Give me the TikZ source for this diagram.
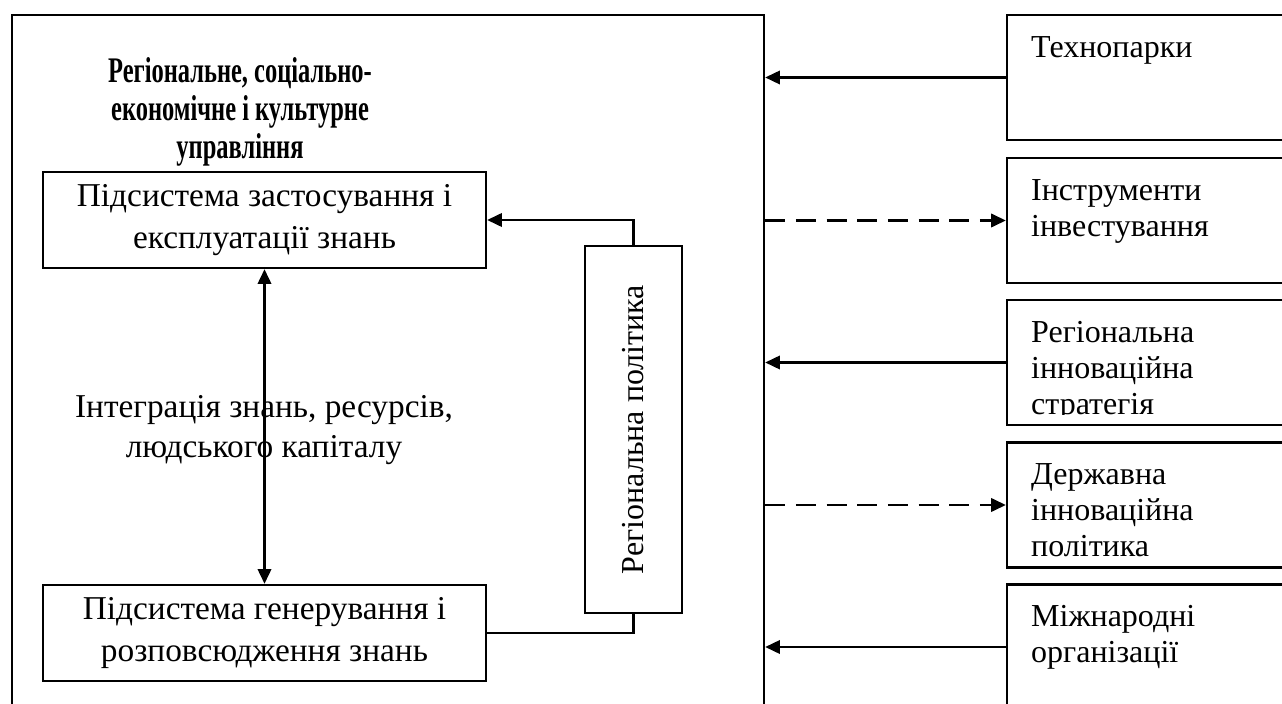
\documentclass[tikz,border=0pt]{standalone}
\usepackage{fontspec}
\setmainfont{Liberation Serif}
\usetikzlibrary{arrows.meta, positioning}
\newcommand{\squeeze}[1]{\scalebox{0.68}[1]{#1}}

\begin{document}
\begin{tikzpicture}[
    x=0.375pt, y=-0.375pt, line width=0.9pt,
    >={Triangle[length=5.5pt, width=5pt]},
    box/.style={draw, minimum width=166.1pt, minimum height=36pt, align=center, font=\fontsize{12.5}{15.75}\selectfont},
    heading/.style={align=center, font=\bfseries\fontsize{13.5}{14.1}\selectfont},
    side/.style={draw, minimum width=106.1pt, minimum height=46.9pt, path picture={
        \clip ([yshift=4pt]path picture bounding box.south west) rectangle (path picture bounding box.north east);
        \node[draw=none, minimum width=0pt, minimum height=0pt, anchor=north west, inner sep=0pt, align=left, font=\fontsize{12}{13.5}\selectfont]
            at ([xshift=8.6pt, yshift=-7.5pt]path picture bounding box.north west) {#1};}},
    dashline/.style={dash pattern=on 7.5pt off 4pt},
    ]

    \useasboundingbox (0,0) rectangle (1282,704);
    \clip (0,0) rectangle (1282,704);

    % outer frame (runs off the bottom)
    \node[draw, minimum width=282pt, minimum height=264.4pt] (frame) at (388,367.5) {};

    \node[heading] (title) at (240,112) {\squeeze{Регіональне, соціально-}\\\squeeze{економічне і культурне}\\\squeeze{управління}};

    % subsystems (left)
    \node[box] (appl) at (264.5,220) {Підсистема застосування і\\експлуатації знань};
    \node[box] (gen) at (264.5,633) {Підсистема генерування і\\розповсюдження знань};
    \node[align=center, font=\fontsize{12.5}{15}\selectfont] (integ) at (264,430) {Інтеграція знань, ресурсів,\\людського капіталу};

    % regional policy (vertical)
    \node[draw, minimum width=36.4pt, minimum height=137.6pt, font=\fontsize{12}{14}\selectfont] (pol) at (633.5,429.5) {\rotatebox{90}{Регіональна політика}};

    % right column
    \node[side={Технопарки}] (tech) at (1148.5,77.5) {};
    \node[side={Інструменти\\інвестування}] (inv) at (1148.5,220.5) {};
    \node[side={Регіональна\\інноваційна\\стратегія}] (strat) at (1148.5,362.5) {};
    \node[side={Державна\\інноваційна\\політика}] (state) at (1148.5,505) {};
    \node[side={Міжнародні\\організації}] (intl) at (1148.5,647) {};

    % Arrows
    \draw[<->] (appl.south) -- (gen.north);
    \draw[->] (pol.north) |- (appl.east);
    \draw (gen.east) -| (pol.south);

    \draw[->] (tech.west) -- (tech.west -| frame.east);
    \draw[->, dashline] (inv.west -| frame.east) -- (inv.west);
    \draw[->] (strat.west) -- (strat.west -| frame.east);
    \draw[->, dashline] (state.west -| frame.east) -- (state.west);
    \draw[->] (intl.west) -- (intl.west -| frame.east);
\end{tikzpicture}
\end{document}
